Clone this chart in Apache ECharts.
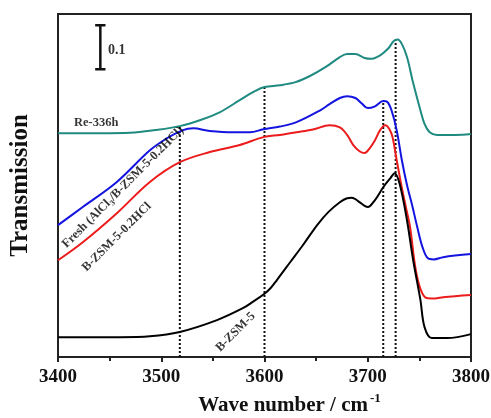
<!DOCTYPE html>
<html><head><meta charset="utf-8">
<script src="https://cdn.jsdelivr.net/npm/echarts@6/dist/echarts.min.js"></script>
<style>html,body{margin:0;padding:0;background:#fff}#c{width:491px;height:418px}</style>
</head><body><div id="c"></div>
<script>
// ---- data (wave number, cm^-1  /  transmission, offset traces) ----
const re336hX = [3400,3441,3470,3494,3518,3538,3557,3576,3591,3600,3615,3630,3644,3659,3673,3680,3688,3697,3703,3712,3720,3725,3729,3733,3738,3744,3751,3755,3760,3767,3785,3800];
const re336hY = [0.509,0.509,0.510,0.516,0.525,0.539,0.557,0.584,0.605,0.614,0.618,0.625,0.639,0.659,0.682,0.689,0.689,0.680,0.678,0.686,0.702,0.718,0.722,0.712,0.682,0.623,0.561,0.530,0.511,0.505,0.505,0.507];

const freshX = [3400,3424,3457,3489,3506,3521,3531,3547,3570,3586,3599,3615,3631,3654,3663,3673,3680,3688,3694,3700,3707,3715,3719,3723,3728,3733,3738,3743,3748,3753,3758,3764,3773,3800];
const freshY = [0.300,0.341,0.398,0.470,0.498,0.516,0.520,0.514,0.511,0.511,0.518,0.524,0.534,0.561,0.575,0.589,0.593,0.589,0.577,0.566,0.570,0.582,0.580,0.561,0.516,0.448,0.391,0.345,0.295,0.250,0.225,0.222,0.227,0.234];

const hclX = [3400,3424,3457,3489,3518,3547,3576,3599,3615,3631,3648,3663,3673,3680,3686,3692,3697,3702,3707,3712,3717,3721,3724,3728,3733,3737,3741,3746,3751,3757,3765,3773,3800];
const hclY = [0.220,0.261,0.327,0.398,0.443,0.466,0.482,0.500,0.505,0.511,0.518,0.527,0.522,0.505,0.482,0.468,0.464,0.475,0.493,0.516,0.527,0.518,0.500,0.448,0.385,0.340,0.295,0.205,0.155,0.134,0.133,0.136,0.141];

const bzsmX = [3400,3460,3489,3518,3554,3579,3589,3599,3606,3612,3625,3638,3651,3662,3673,3680,3684,3688,3692,3700,3707,3715,3722,3726,3731,3738,3744,3751,3755,3762,3777,3800];
const bzsmY = [0.045,0.045,0.047,0.057,0.084,0.111,0.126,0.142,0.157,0.175,0.216,0.257,0.300,0.330,0.352,0.361,0.362,0.359,0.352,0.341,0.357,0.386,0.407,0.418,0.393,0.311,0.220,0.130,0.068,0.043,0.043,0.052];

// dotted reference lines (position, top value)
const refLineX = [3518, 3600, 3715, 3727];
const refLineTop = [0.525, 0.614, 0.582, 0.722];

// scale bar (0.1 transmission)
const scaleBarX = 3441;
const scaleBarBottom = 0.6545;
const scaleBarTop = 0.7545;
const scaleBarLabel = '0.1';

// trace labels
const traceLabels = ['Re-336h', 'Fresh (AlCl3/B-ZSM-5-0.2HCl)', 'B-ZSM-5-0.2HCl', 'B-ZSM-5'];
const traceLabelX = [3437, 3463, 3457, 3572];
const traceLabelY = [0.532, 0.386, 0.273, 0.057];

const xTicks = [3400, 3500, 3600, 3700, 3800];

// ---- chart ----
const FONT = 'Liberation Serif';
const pairs = (xs, ys) => xs.map((x, i) => [x, ys[i]]);

const curve = (name, xs, ys, color) => ({
  name, type: 'line', data: pairs(xs, ys), symbol: 'none', smooth: 0.35,
  lineStyle: { color, width: 2 }, z: 5, silent: true
});

const series = [];
refLineX.forEach((x, i) => {
  series.push({
    type: 'line', data: [[x, 0], [x, refLineTop[i]]], symbol: 'none', silent: true, z: 2,
    lineStyle: { color: '#111', width: 2, type: [2, 2] }
  });
});
series.push(curve('Re-336h', re336hX, re336hY, '#1f8a80'));
series.push(curve('Fresh', freshX, freshY, '#1414e0'));
series.push(curve('B-ZSM-5-0.2HCl', hclX, hclY, '#ec1c1c'));
series.push(curve('B-ZSM-5', bzsmX, bzsmY, '#000000'));

// scale bar
const capHalf = 5;
[[[scaleBarX, scaleBarBottom], [scaleBarX, scaleBarTop]],
 [[scaleBarX - capHalf, scaleBarTop], [scaleBarX + capHalf, scaleBarTop]],
 [[scaleBarX - capHalf, scaleBarBottom], [scaleBarX + capHalf, scaleBarBottom]]].forEach(d => {
  series.push({ type: 'line', data: d, symbol: 'none', silent: true, z: 6,
    lineStyle: { color: '#111', width: 2.5 } });
});

const rich = {
  t: { fontFamily: FONT, fontWeight: 'bold', fontSize: 12.5, color: '#000', lineHeight: 16 },
  s: { fontFamily: FONT, fontWeight: 'bold', fontSize: 8, color: '#000', lineHeight: 16, verticalAlign: 'bottom', padding: [6, 0, 0, 0] }
};
const fmtLabel = (txt) => {
  if (txt.indexOf('AlCl3') >= 0) {
    const parts = txt.split('AlCl3');
    return '{t|' + parts[0] + 'AlCl}{s|3}{t|' + parts[1] + '}';
  }
  return '{t|' + txt + '}';
};
const labelData = traceLabels.map((t, i) => ({
  value: [traceLabelX[i], traceLabelY[i]],
  label: { formatter: fmtLabel(t), rotate: i === 0 ? 0 : 45 }
}));
labelData.push({
  value: [3457, 0.698],
  label: { formatter: '{u|' + scaleBarLabel + '}', rotate: 0 }
});
series.push({
  type: 'scatter', data: labelData, symbolSize: 0, silent: true, z: 7,
  label: { show: true, position: 'inside', align: 'center', verticalAlign: 'middle',
    rich: Object.assign({}, rich, { u: { fontFamily: FONT, fontWeight: 'bold', fontSize: 14, color: '#000' } }) }
});

const chart = echarts.init(document.getElementById('c'), null, { renderer: 'canvas' });
chart.setOption({
  animation: false,
  backgroundColor: '#fff',
  grid: { left: 58, right: 20, top: 14, bottom: 61, outerBoundsMode: 'none', containLabel: false,
    show: true, borderColor: '#222', borderWidth: 2, backgroundColor: 'transparent' },
  xAxis: {
    type: 'value', min: xTicks[0], max: xTicks[xTicks.length - 1], interval: 100,
    axisLine: { show: true, onZero: false, lineStyle: { color: '#222', width: 2 } },
    axisTick: { show: true, inside: false, length: 5, lineStyle: { color: '#222', width: 2 } },
    minorTick: { show: true, splitNumber: 2, length: 4, lineStyle: { color: '#222', width: 2 } },
    splitLine: { show: false },
    axisLabel: { margin: 11, fontFamily: FONT, fontWeight: 'bold', fontSize: 19, color: '#111',
      formatter: (v) => String(v) },
    name: '{a|Wave number / cm}{b|-1}', nameLocation: 'middle', nameGap: 27,
    nameTextStyle: {
      padding: [0, 0, 0, 50],
      rich: {
        a: { fontFamily: FONT, fontWeight: 'bold', fontSize: 21, color: '#111', lineHeight: 28 },
        b: { fontFamily: FONT, fontWeight: 'bold', fontSize: 13, color: '#111', lineHeight: 28, verticalAlign: 'top', padding: [0, 0, 12, 2] }
      }
    }
  },
  yAxis: {
    type: 'value', min: 0, max: 0.78,
    axisLine: { show: false }, axisTick: { show: false }, axisLabel: { show: false }, splitLine: { show: false },
    name: 'Transmission', nameLocation: 'middle', nameGap: 25, nameRotate: 90,
    nameTextStyle: { fontFamily: FONT, fontWeight: 'bold', fontSize: 25, color: '#111' }
  },
  series
});
</script>
</body></html>
